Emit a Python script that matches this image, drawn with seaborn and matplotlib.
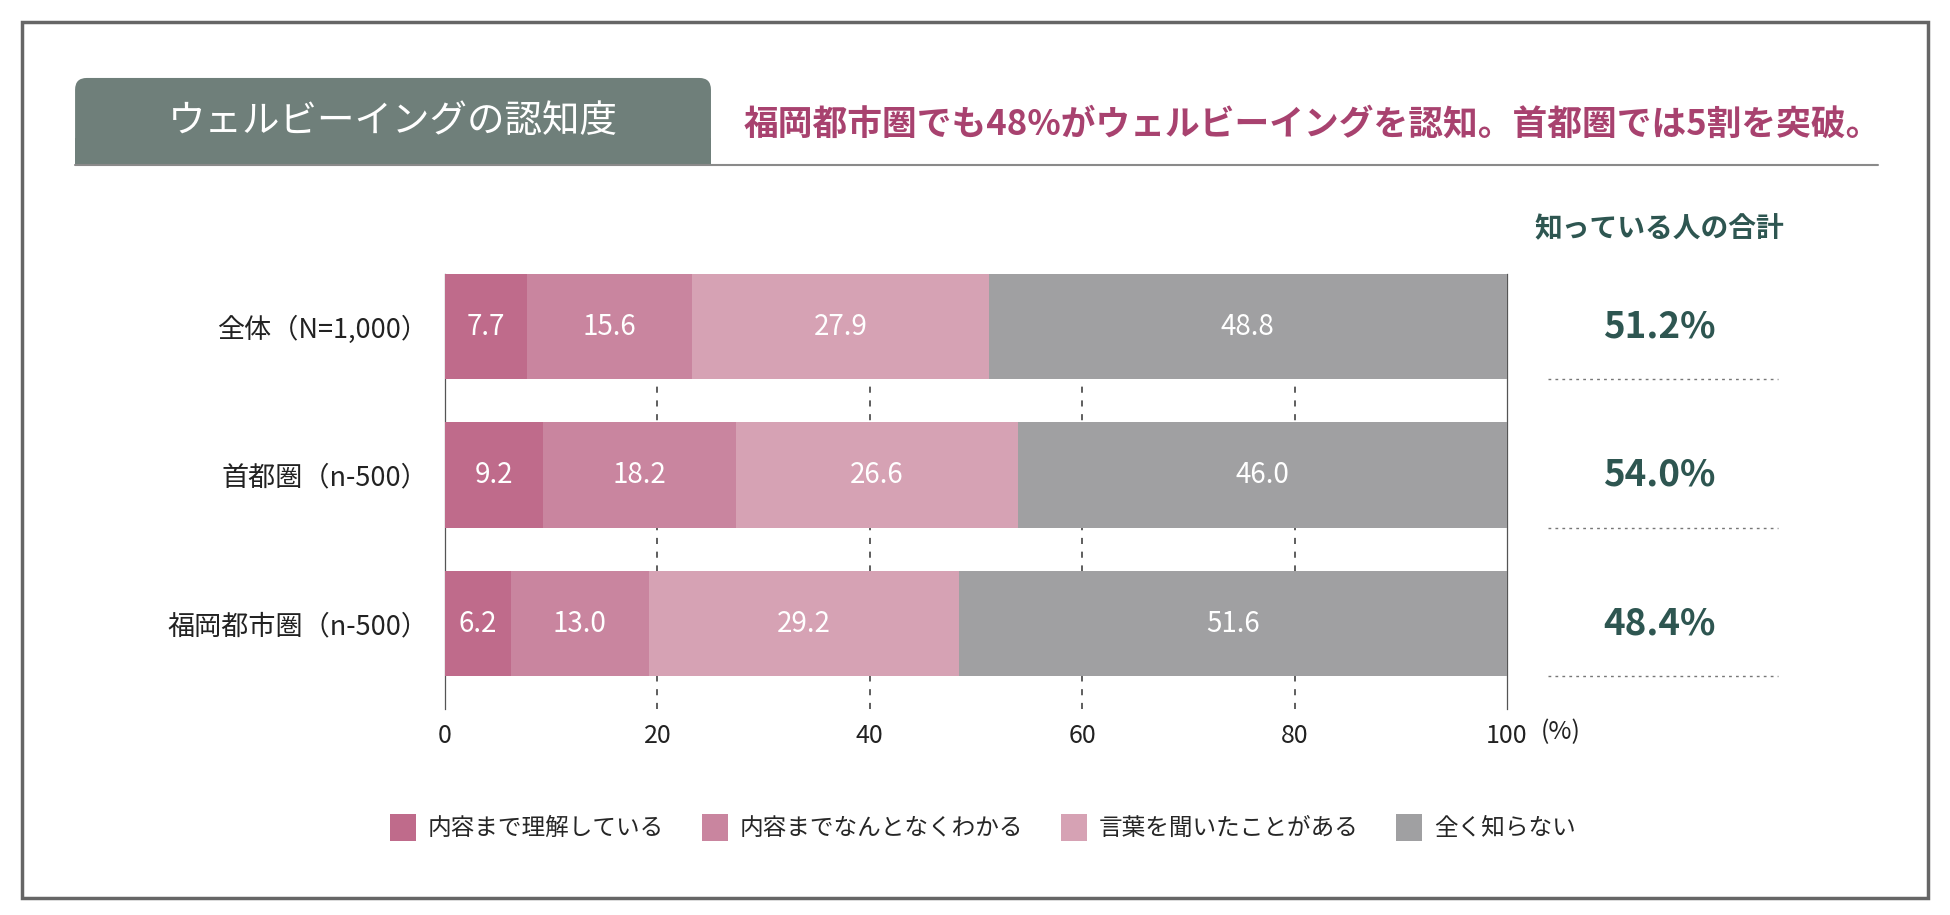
import matplotlib
matplotlib.use("Agg")
import matplotlib.pyplot as plt
import matplotlib.patches as mpatches
import matplotlib.transforms as mtransforms
from matplotlib.lines import Line2D
import seaborn as sns
import numpy as np
import pandas as pd

# data
groups = ['全体（N=1,000）', '首都圏（n-500）', '福岡都市圏（n-500）']
levels = ['内容まで理解している', '内容までなんとなくわかる', '言葉を聞いたことがある', '全く知らない']
understand = [7.7, 9.2, 6.2]
vaguely = [15.6, 18.2, 13.0]
heard = [27.9, 26.6, 29.2]
unknown = [48.8, 46.0, 51.6]
known_total = [51.2, 54.0, 48.4]
xticks = [0, 20, 40, 60, 80, 100]

colors = ['#bf6b8b', '#c9859f', '#d6a2b4', '#a0a0a2']
text_dark = '#222222'
teal = '#2e5651'

sns.set_theme(style='white')
plt.rcParams['font.family'] = ['Noto Sans CJK JP', 'DejaVu Sans']

series = [understand, vaguely, heard, unknown]
df = pd.DataFrame({'group': groups})
for name, vals in zip(levels, series):
    df[name] = vals
cum = df[levels].cumsum(axis=1)

fig = plt.figure(figsize=(19.5, 9.15), dpi=100)
ax = fig.add_axes([0.2282, 0.2251, 0.5446, 0.4754])

# stacked bars by overdrawing cumulative totals, longest first
for i in range(len(levels) - 1, -1, -1):
    sns.barplot(x=cum[levels[i]], y=df['group'], orient='h', color=colors[i],
                saturation=1, width=0.71, linewidth=0, edgecolor='none',
                ax=ax, zorder=3)

# value labels in each segment
for r, g in enumerate(groups):
    left = 0
    for i, name in enumerate(levels):
        v = df.loc[r, name]
        ax.text(left + v / 2, r, f'{v:.1f}', ha='center', va='center',
                color='white', fontsize=20, zorder=5)
        left += v

ax.set_xlim(0, 100)
ax.set_ylim(2.576, -0.355)
ax.set_xticks(xticks)
ax.set_xticklabels([str(t) for t in xticks], fontsize=18, color=text_dark)
ax.set_yticks(range(len(groups)))
ax.set_yticklabels(groups, fontsize=19.5, color=text_dark)
ax.tick_params(axis='x', length=0, pad=10)
ax.tick_params(axis='y', length=0, pad=12)
ax.set_xlabel('')
ax.set_ylabel('')
for t in xticks[1:-1]:
    ax.axvline(t, color='#333333', lw=1.1, ls=(0, (4, 5)), zorder=1)
for s in ['top', 'bottom']:
    ax.spines[s].set_visible(False)
for s in ['left', 'right']:
    ax.spines[s].set_visible(True)
    ax.spines[s].set_color('#555555')
    ax.spines[s].set_linewidth(0.9)
ax.text(103.2, 2.576 + 0.07, '(%)', ha='left', va='top',
        fontsize=18, color=text_dark, clip_on=False)

# right column: totals of people who know the term
blend = mtransforms.blended_transform_factory(fig.transFigure, ax.transData)
fig.text(0.851, 0.749, '知っている人の合計', ha='center', va='center',
         fontsize=20, fontweight='bold', color=teal)
for r, v in enumerate(known_total):
    ax.text(0.851, r, f'{v:.1f}%', transform=blend, ha='center', va='center',
            fontsize=26.5, fontweight='semibold', color=teal, clip_on=False)
    ax.add_line(Line2D([0.794, 0.912], [r + 0.355, r + 0.355], transform=blend,
                       color='#777777', lw=1.0, ls=(0, (2, 3)), clip_on=False))

# header
box = mpatches.FancyBboxPatch((0.0385, 0.8197), 0.3261, 0.0951,
                              boxstyle='round,pad=0,rounding_size=0.006',
                              transform=fig.transFigure, facecolor='#6f7f7a',
                              edgecolor='none', mutation_aspect=19.5 / 9.15)
fig.patches.append(box)
fig.patches.append(mpatches.Rectangle((0.0385, 0.8197), 0.3261, 0.03,
                                      transform=fig.transFigure,
                                      facecolor='#6f7f7a', edgecolor='none'))
fig.text(0.2015, 0.867, 'ウェルビーイングの認知度', ha='center', va='center',
         fontsize=27, color='white')
fig.add_artist(Line2D([0.0385, 0.963], [0.8197, 0.8197], color='#8a8a8a', lw=1.5))
fig.text(0.673, 0.8645, '福岡都市圏でも48%がウェルビーイングを認知。首都圏では5割を突破。',
         ha='center', va='center', fontsize=25, fontweight='bold', color='#a8426f')

# legend
handles = [mpatches.Patch(facecolor=c, edgecolor='none', label=l)
           for c, l in zip(colors, levels)]
fig.legend(handles=handles, loc='center', bbox_to_anchor=(0.504, 0.096), ncol=4,
           frameon=False, fontsize=17, handlelength=1.1, handleheight=1.4,
           handletextpad=0.5, columnspacing=1.6)

# outer frame
fig.patches.append(mpatches.Rectangle((0.0113, 0.0186), 0.9774, 0.9574,
                                      transform=fig.transFigure, fill=False,
                                      edgecolor='#666666', lw=2.5))

fig.savefig('out.png', dpi=100)
